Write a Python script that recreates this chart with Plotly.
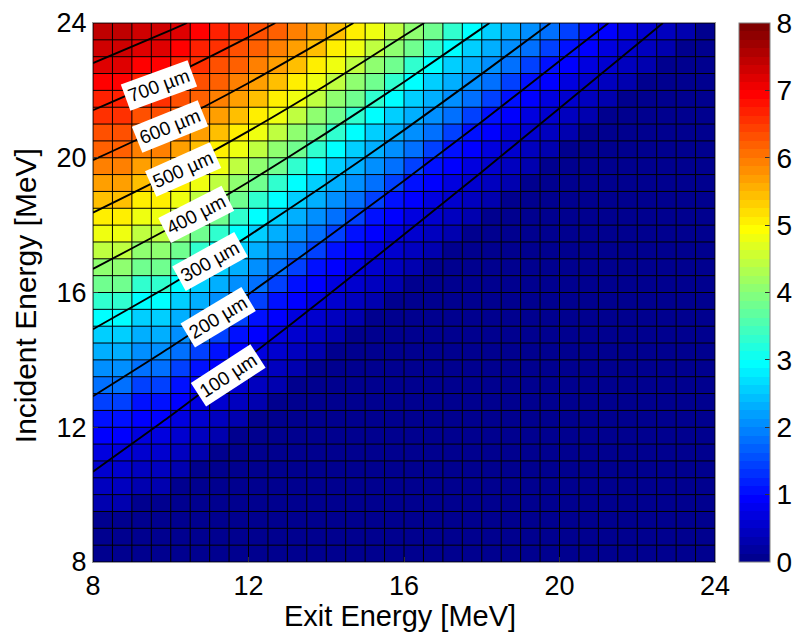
import plotly.graph_objects as go

# ---------------- data ----------------
# cell edges of the pcolor grid (MeV)
exit_edges = [8, 8.5, 9, 9.5, 10, 10.5, 11, 11.5, 12, 12.5, 13, 13.5, 14, 14.5, 15, 15.5,
              16, 16.5, 17, 17.5, 18, 18.5, 19, 19.5, 20, 20.5, 21, 21.5, 22, 22.5, 23, 23.5, 24]
incident_edges = list(exit_edges)

# colour value of each cell, one row per incident-energy bin (bottom -> top),
# listed from exit energy 8 MeV rightwards; cells not listed are 0
cell_rows = [
    [],
    [0.05],
    [0.12, 0.12],
    [0.25, 0.25, 0.12],
    [0.4, 0.4, 0.25, 0.25],
    [0.57, 0.57, 0.4, 0.4, 0.25],
    [0.73, 0.73, 0.57, 0.57, 0.4, 0.25],
    [0.88, 0.88, 0.73, 0.73, 0.57, 0.4, 0.25],
    [1.1, 1.1, 0.88, 0.88, 0.73, 0.57, 0.4, 0.25],
    [1.45, 1.45, 1.1, 1.1, 0.88, 0.73, 0.57, 0.4, 0.25],
    [1.75, 1.75, 1.45, 1.45, 1.1, 0.88, 0.73, 0.57, 0.4, 0.25],
    [2.0, 2.0, 1.75, 1.75, 1.45, 1.1, 0.88, 0.73, 0.57, 0.4, 0.25],
    [2.33, 2.33, 2.0, 2.0, 1.75, 1.45, 1.1, 0.88, 0.73, 0.57, 0.4, 0.25],
    [2.6, 2.6, 2.33, 2.33, 2.0, 1.75, 1.45, 1.1, 0.88, 0.73, 0.57, 0.4, 0.25],
    [2.95, 2.95, 2.6, 2.6, 2.33, 2.0, 1.75, 1.45, 1.1, 0.88, 0.73, 0.57, 0.4, 0.25],
    [3.3, 3.3, 2.95, 2.95, 2.6, 2.33, 2.0, 1.75, 1.45, 1.1, 0.88, 0.73, 0.57, 0.4, 0.25],
    [3.75, 3.75, 3.3, 3.3, 2.95, 2.6, 2.33, 2.0, 1.75, 1.45, 1.1, 0.88, 0.73, 0.57, 0.4, 0.25],
    [4.1, 4.1, 3.75, 3.75, 3.3, 2.95, 2.6, 2.33, 2.0, 1.75, 1.45, 1.1, 0.88, 0.73, 0.57, 0.4, 0.25],
    [4.45, 4.45, 4.1, 4.1, 3.75, 3.3, 2.95, 2.6, 2.33, 2.0, 1.75, 1.45, 1.1, 0.88, 0.73, 0.57,
     0.4, 0.25],
    [4.75, 4.75, 4.45, 4.45, 4.1, 3.75, 3.3, 2.95, 2.6, 2.33, 2.0, 1.75, 1.45, 1.1, 0.88, 0.73,
     0.57, 0.4, 0.25],
    [5.12, 5.12, 4.75, 4.75, 4.45, 4.1, 3.75, 3.3, 2.95, 2.6, 2.33, 2.0, 1.75, 1.45, 1.1, 0.88,
     0.73, 0.57, 0.4, 0.25],
    [5.43, 5.43, 5.12, 5.12, 4.75, 4.45, 4.1, 3.75, 3.3, 2.95, 2.6, 2.33, 2.0, 1.75, 1.45, 1.1,
     0.88, 0.73, 0.57, 0.4, 0.25],
    [5.67, 5.67, 5.43, 5.43, 5.12, 4.75, 4.45, 4.1, 3.75, 3.3, 2.95, 2.6, 2.33, 2.0, 1.75, 1.45,
     1.1, 0.88, 0.73, 0.57, 0.4, 0.25],
    [5.9, 5.9, 5.67, 5.67, 5.43, 5.12, 4.75, 4.45, 4.1, 3.75, 3.3, 2.95, 2.6, 2.33, 2.0, 1.75,
     1.45, 1.1, 0.88, 0.73, 0.57, 0.4, 0.25],
    [6.14, 6.14, 5.9, 5.9, 5.67, 5.43, 5.12, 4.75, 4.45, 4.1, 3.75, 3.3, 2.95, 2.6, 2.33, 2.0,
     1.75, 1.45, 1.1, 0.88, 0.73, 0.57, 0.4, 0.25],
    [6.3, 6.3, 6.14, 6.14, 5.9, 5.67, 5.43, 5.12, 4.75, 4.45, 4.1, 3.75, 3.3, 2.95, 2.6, 2.33,
     2.0, 1.75, 1.45, 1.1, 0.88, 0.73, 0.57, 0.4, 0.25],
    [6.53, 6.53, 6.3, 6.3, 6.14, 5.9, 5.67, 5.43, 5.12, 4.75, 4.45, 4.1, 3.75, 3.3, 2.95, 2.6,
     2.33, 2.0, 1.75, 1.45, 1.1, 0.88, 0.73, 0.57, 0.4, 0.25],
    [6.69, 6.69, 6.53, 6.53, 6.3, 6.14, 5.9, 5.67, 5.43, 5.12, 4.75, 4.45, 4.1, 3.75, 3.3, 2.95,
     2.6, 2.33, 2.0, 1.75, 1.45, 1.1, 0.88, 0.73, 0.57, 0.4, 0.25],
    [6.95, 6.95, 6.69, 6.69, 6.53, 6.3, 6.14, 5.9, 5.67, 5.43, 5.12, 4.75, 4.45, 4.1, 3.75, 3.3,
     2.95, 2.6, 2.33, 2.0, 1.75, 1.45, 1.1, 0.88, 0.73, 0.57, 0.4, 0.25],
    [7.15, 7.15, 6.95, 6.95, 6.69, 6.53, 6.3, 6.14, 5.9, 5.67, 5.43, 5.12, 4.75, 4.45, 4.1, 3.75,
     3.3, 2.95, 2.6, 2.33, 2.0, 1.75, 1.45, 1.1, 0.88, 0.73, 0.57, 0.4, 0.25],
    [7.31, 7.31, 7.15, 7.15, 6.95, 6.69, 6.53, 6.3, 6.14, 5.9, 5.67, 5.43, 5.12, 4.75, 4.45, 4.1,
     3.75, 3.3, 2.95, 2.6, 2.33, 2.0, 1.75, 1.45, 1.1, 0.88, 0.73, 0.57, 0.4, 0.25],
    [7.43, 7.43, 7.31, 7.31, 7.15, 6.95, 6.69, 6.53, 6.3, 6.14, 5.9, 5.67, 5.43, 5.12, 4.75, 4.45,
     4.1, 3.75, 3.3, 2.95, 2.6, 2.33, 2.0, 1.75, 1.45, 1.1, 0.88, 0.73, 0.57, 0.4, 0.25],
]

# thickness contour lines: (exit energy, incident energy) points, MeV
contour_levels = ["100 µm", "200 µm", "300 µm", "400 µm", "500 µm", "600 µm", "700 µm", "800 µm"]
contour_exit = [
    [8, 10, 12, 14, 16, 18, 20, 22, 22.66],
    [8, 10, 12, 14, 16, 18, 20, 21.26],
    [8, 10, 12, 14, 16, 18, 19.77],
    [8, 10, 12, 14, 16, 18, 18.2],
    [8, 10, 12, 14, 16, 16.52],
    [8, 10, 12, 14, 14.7],
    [8, 10, 12, 12.69],
    [8, 10, 10.42],
]
contour_incident = [
    [10.68, 12.34, 14.08, 15.88, 17.72, 19.58, 21.47, 23.37, 24],
    [12.92, 14.38, 15.95, 17.61, 19.32, 21.07, 22.87, 24],
    [14.91, 16.23, 17.68, 19.22, 20.82, 22.49, 24],
    [16.70, 17.93, 19.28, 20.73, 22.25, 23.84, 24],
    [18.37, 19.52, 20.79, 22.16, 23.62, 24],
    [19.93, 21.01, 22.22, 23.53, 24],
    [21.41, 22.43, 23.58, 24],
    [22.81, 23.79, 24],
]
# inline labels (first seven levels): position and rotation
label_exit = [11.47, 11.21, 11.01, 10.65, 10.32, 9.98, 9.70]
label_incident = [13.55, 15.27, 16.92, 18.33, 19.66, 20.93, 22.14]
label_angle = [-33, -31, -29, -27, -24, -22, -20]

tick_vals = [8, 12, 16, 20, 24]
cbar_ticks = [0, 1, 2, 3, 4, 5, 6, 7, 8]

FONT = "Liberation Sans, Arial, Helvetica, sans-serif"

# ---------------- MATLAB jet(64), discrete ----------------
def jet_color(k, n=64):
    t = (k + 1) / n
    def c(v):
        return max(0.0, min(1.0, v))
    r = c(1.5 - abs(4 * t - 3))
    g = c(1.5 - abs(4 * t - 2))
    b = c(1.5 - abs(4 * t - 1))
    return "rgb(%d,%d,%d)" % (round(r * 255), round(g * 255), round(b * 255))

jet_scale = []
for k in range(64):
    col = jet_color(k)
    jet_scale.append([k / 64, col])
    jet_scale.append([(k + 1) / 64, col])

z = [row + [0] * (32 - len(row)) for row in cell_rows]

fig = go.Figure()
fig.add_trace(go.Heatmap(
    x=exit_edges, y=incident_edges, z=z,
    zmin=0, zmax=8, colorscale=jet_scale,
    colorbar=dict(
        x=(739 - 93) / 622, xanchor="left", xpad=0, ypad=0,
        y=0.5, yanchor="middle", len=1, lenmode="fraction",
        thickness=31, thicknessmode="pixels",
        outlinewidth=1, outlinecolor="#7f7f7f",
        tickvals=cbar_ticks, ticks="inside", ticklen=5, tickcolor="#333333",
        tickfont=dict(family=FONT, size=28, color="black"),
    ),
    hoverinfo="skip",
))

# black cell edges of the pcolor grid
gx, gy = [], []
for e in exit_edges:
    gx += [e, e, None]
    gy += [incident_edges[0], incident_edges[-1], None]
for e in incident_edges:
    gx += [exit_edges[0], exit_edges[-1], None]
    gy += [e, e, None]
fig.add_trace(go.Scatter(x=gx, y=gy, mode="lines", line=dict(color="black", width=1),
                         showlegend=False, hoverinfo="skip"))

for ex, inc in zip(contour_exit, contour_incident):
    fig.add_trace(go.Scatter(
        x=ex, y=inc, mode="lines",
        line=dict(color="black", width=1.9, shape="spline", smoothing=0.5),
        showlegend=False, hoverinfo="skip",
    ))

annotations = []
for lx, ly, ang, txt in zip(label_exit, label_incident, label_angle, contour_levels):
    annotations.append(dict(
        x=lx, y=ly, xref="x", yref="y", text=txt, showarrow=False,
        textangle=ang, bgcolor="white", borderpad=3,
        font=dict(family=FONT, size=19, color="black"),
        xanchor="center", yanchor="middle",
    ))
annotations.append(dict(
    x=0.494, y=-0.101, xref="paper", yref="paper", text="Exit Energy [MeV]",
    showarrow=False, xanchor="center", yanchor="middle",
    font=dict(family=FONT, size=29, color="black"),
))
annotations.append(dict(
    x=-0.109, y=0.4935, xref="paper", yref="paper", text="Incident Energy [MeV]",
    showarrow=False, xanchor="center", yanchor="middle", textangle=-90,
    font=dict(family=FONT, size=30, color="black"),
))

axis_common = dict(
    range=[8, 24], tickvals=tick_vals, ticks="inside", ticklen=5, tickcolor="#333333",
    showgrid=False, zeroline=False, showline=True, mirror=True,
    linecolor="#9a9a9a", linewidth=1,
    tickfont=dict(family=FONT, size=27, color="black"),
)
fig.update_xaxes(**axis_common)
fig.update_yaxes(**axis_common)

fig.update_layout(
    width=793, height=632,
    margin=dict(l=93, r=78, t=23, b=70, autoexpand=False),
    paper_bgcolor="white", plot_bgcolor="white",
    showlegend=False,
    annotations=annotations,
    font=dict(family=FONT),
)

fig.write_html("out.html")
